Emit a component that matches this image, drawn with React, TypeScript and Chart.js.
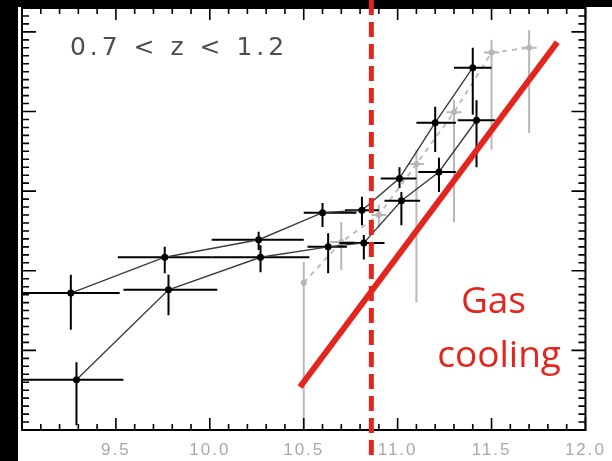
import { useEffect, useRef } from 'react';
import { Chart, registerables } from 'chart.js';

Chart.register(...registerables);

// ---- axis ticks ----
const xTickValues = [9.0, 9.5, 10.0, 10.5, 11.0, 11.5, 12.0];
const xTickLabels = ['', '9.5', '10.0', '10.5', '11.0', '11.5', '12.0'];

// ---- black series A (upper) ----
const aX = [9.26, 9.76, 10.26, 10.6, 10.81, 11.01, 11.2, 11.4];
const aY = [1.72, 2.17, 2.39, 2.73, 2.76, 3.16, 3.86, 4.55];
const aXLo = [9.0, 9.51, 10.01, 10.5, 10.72, 10.91, 11.1, 11.3];
const aXHi = [9.52, 10.01, 10.5, 10.78, 10.9, 11.1, 11.31, 11.5];
const aYLo = [1.26, 1.97, 2.26, 2.55, 2.57, 3.04, 3.49, 3.96];
const aYHi = [1.95, 2.3, 2.49, 2.85, 2.93, 3.3, 4.06, 4.8];

// ---- black series B (lower) ----
const bX = [9.29, 9.78, 10.27, 10.63, 10.82, 11.02, 11.22, 11.42];
const bY = [0.63, 1.76, 2.17, 2.3, 2.35, 2.88, 3.24, 3.89];
const bXLo = [9.0, 9.54, 10.01, 10.52, 10.69, 10.93, 11.11, 11.32];
const bXHi = [9.54, 10.04, 10.53, 10.73, 10.93, 11.12, 11.31, 11.52];
const bYLo = [0.06, 1.44, 1.98, 1.97, 2.14, 2.57, 2.99, 3.3];
const bYHi = [0.85, 1.95, 2.32, 2.47, 2.45, 2.99, 3.42, 4.14];

// ---- grey comparison series ----
const gX = [10.5, 10.7, 10.9, 11.1, 11.3, 11.5, 11.7];
const gY = [1.85, 2.36, 2.7, 3.34, 3.99, 4.74, 4.8];
const gXLo = [10.5, 10.64, 10.86, 11.06, 11.26, 11.46, 11.66];
const gXHi = [10.5, 10.77, 10.94, 11.14, 11.34, 11.54, 11.74];
const gYLo = [0.0, 2.01, 2.54, 1.6, 2.61, 3.52, 3.73];
const gYHi = [2.11, 2.61, 2.83, 3.52, 4.14, 4.9, 5.02];

// ---- gas cooling line & threshold ----
const coolingX = [10.48, 11.85];
const coolingY = [0.54, 4.87];
const thresholdX = 10.86;

const rangeLabel = '0.7 < z < 1.2';
const coolingLabel = ['Gas', 'cooling'];

const pts = (xs: number[], ys: number[]) => xs.map((x, i) => ({ x, y: ys[i] }));

const RED = '#e3261d';

const errorBarPlugin = {
  id: 'errorBars',
  beforeDatasetDraw(chart: any, args: any) {
    const ds = chart.data.datasets[args.index];
    if (!ds.errors) return;
    const { ctx } = chart;
    const xs = chart.scales.x;
    const ys = chart.scales.y;
    const e = ds.errors;
    ctx.save();
    ctx.strokeStyle = ds.errorColor;
    ctx.lineWidth = ds.errorWidth;
    ctx.lineCap = 'butt';
    ds.data.forEach((p: any, i: number) => {
      const px = xs.getPixelForValue(p.x);
      const py = ys.getPixelForValue(p.y);
      ctx.beginPath();
      if (e.xlo[i] !== e.xhi[i]) {
        ctx.moveTo(xs.getPixelForValue(e.xlo[i]), py);
        ctx.lineTo(xs.getPixelForValue(e.xhi[i]), py);
      }
      ctx.moveTo(px, ys.getPixelForValue(e.ylo[i]));
      ctx.lineTo(px, ys.getPixelForValue(e.yhi[i]));
      ctx.stroke();
    });
    ctx.restore();
  },
};

const backgroundPlugin = {
  id: 'bgBands',
  beforeDraw(chart: any) {
    const { ctx, width, height } = chart;
    ctx.save();
    ctx.fillStyle = '#ffffff';
    ctx.fillRect(0, 0, width, height);
    ctx.fillStyle = '#000000';
    ctx.fillRect(0, 0, 18, height);
    ctx.fillRect(0, 0, width, 7);
    ctx.restore();
    ctx.letterSpacing = '2px';
  },
};

const framePlugin = {
  id: 'frameTicks',
  afterDatasetsDraw(chart: any) {
    const { ctx, chartArea } = chart;
    const xs = chart.scales.x;
    const ys = chart.scales.y;
    const { left, right, top, bottom } = chartArea;
    ctx.save();
    ctx.strokeStyle = '#000';
    ctx.lineWidth = 1.6;
    ctx.beginPath();
    for (let i = 0; i <= 30; i++) {
      const v = 9 + i / 10;
      const len = i % 5 === 0 ? 12 : 6;
      const px = xs.getPixelForValue(v);
      ctx.moveTo(px, bottom);
      ctx.lineTo(px, bottom - len);
      ctx.moveTo(px, top);
      ctx.lineTo(px, top + len);
    }
    for (let i = 0; i <= 53; i++) {
      const v = i / 10;
      const len = i % 10 === 0 ? 14 : 7;
      const py = ys.getPixelForValue(v);
      ctx.moveTo(left, py);
      ctx.lineTo(left + len, py);
      ctx.moveTo(right, py);
      ctx.lineTo(right - len, py);
    }
    ctx.stroke();
    ctx.lineWidth = 2;
    ctx.strokeRect(left, top, right - left, bottom - top);
    ctx.restore();
  },
  afterDraw(chart: any) {
    const { ctx, height } = chart;
    const xs = chart.scales.x;
    const ys = chart.scales.y;
    ctx.save();
    // threshold dashed line
    const tx = xs.getPixelForValue(thresholdX);
    ctx.strokeStyle = RED;
    ctx.lineWidth = 5;
    ctx.setLineDash([15, 7]);
    ctx.beginPath();
    ctx.moveTo(tx, 0);
    ctx.lineTo(tx, height);
    ctx.stroke();
    ctx.setLineDash([]);

    // redshift label
    ctx.letterSpacing = '4px';
    ctx.font = '25px "DejaVu Sans", sans-serif';
    ctx.fillStyle = '#4e4e4e';
    ctx.textAlign = 'left';
    ctx.textBaseline = 'alphabetic';
    ctx.fillText(rangeLabel, xs.getPixelForValue(9.255), ys.getPixelForValue(4.71));

    // gas cooling label
    ctx.letterSpacing = '0px';
    ctx.font = '37px "Open Sans", sans-serif';
    ctx.fillStyle = RED;
    ctx.textAlign = 'center';
    ctx.fillText(coolingLabel[0], xs.getPixelForValue(11.51), ys.getPixelForValue(1.47));
    ctx.fillText(coolingLabel[1], xs.getPixelForValue(11.54), ys.getPixelForValue(0.79));
    ctx.restore();
  },
};

export default function App() {
  const canvasRef = useRef<HTMLCanvasElement | null>(null);

  useEffect(() => {
    if (!canvasRef.current) return;
    const chart = new Chart(canvasRef.current, {
      type: 'scatter',
      data: {
        datasets: [
          {
            label: 'Gas cooling',
            data: pts(coolingX, coolingY),
            showLine: true,
            borderColor: RED,
            borderWidth: 6,
            borderCapStyle: 'butt',
            pointRadius: 0,
            order: 0,
          } as any,
          {
            label: 'A',
            data: pts(aX, aY),
            showLine: true,
            borderColor: '#3c3c3c',
            borderWidth: 1.4,
            pointRadius: 3.5,
            pointBackgroundColor: '#000',
            pointBorderWidth: 0,
            order: 1,
            errors: { xlo: aXLo, xhi: aXHi, ylo: aYLo, yhi: aYHi },
            errorColor: '#000',
            errorWidth: 2,
          } as any,
          {
            label: 'B',
            data: pts(bX, bY),
            showLine: true,
            borderColor: '#3c3c3c',
            borderWidth: 1.4,
            pointRadius: 3.5,
            pointBackgroundColor: '#000',
            pointBorderWidth: 0,
            order: 2,
            errors: { xlo: bXLo, xhi: bXHi, ylo: bYLo, yhi: bYHi },
            errorColor: '#000',
            errorWidth: 2,
          } as any,
          {
            label: 'grey',
            data: pts(gX, gY),
            showLine: true,
            borderColor: '#bdbdbd',
            borderWidth: 2,
            borderDash: [5, 5],
            pointRadius: 3,
            pointBackgroundColor: '#b5b5b5',
            pointBorderWidth: 0,
            order: 3,
            errors: { xlo: gXLo, xhi: gXHi, ylo: gYLo, yhi: gYHi },
            errorColor: '#b8b8b8',
            errorWidth: 2,
          } as any,
        ],
      },
      options: {
        animation: false,
        responsive: false,
        layout: { padding: { left: 22, right: 25, top: 8, bottom: 0 } },
        plugins: { legend: { display: false }, tooltip: { enabled: false } },
        scales: {
          x: {
            type: 'linear',
            min: 9,
            max: 12,
            grid: { display: false, drawTicks: false },
            border: { display: false },
            ticks: {
              stepSize: 0.5,
              autoSkip: false,
              maxRotation: 0,
              padding: 10,
              color: '#a9a9a9',
              font: { size: 17, family: '"Liberation Sans", Arial, sans-serif' },
              callback: (v: any) => {
                const idx = xTickValues.findIndex((t) => Math.abs(t - Number(v)) < 1e-6);
                return idx >= 0 ? xTickLabels[idx] : '';
              },
            },
            afterFit: (s: any) => {
              s.height = 31;
            },
          },
          y: {
            type: 'linear',
            min: 0,
            max: 5.3,
            display: false,
          },
        },
      } as any,
      plugins: [backgroundPlugin, errorBarPlugin, framePlugin],
    });
    return () => chart.destroy();
  }, []);

  return (
    <div style={{ position: 'fixed', left: 0, top: 0, width: 612, height: 461, background: '#fff' }}>
      <canvas ref={canvasRef} width={612} height={461} style={{ display: 'block' }} />
    </div>
  );
}
